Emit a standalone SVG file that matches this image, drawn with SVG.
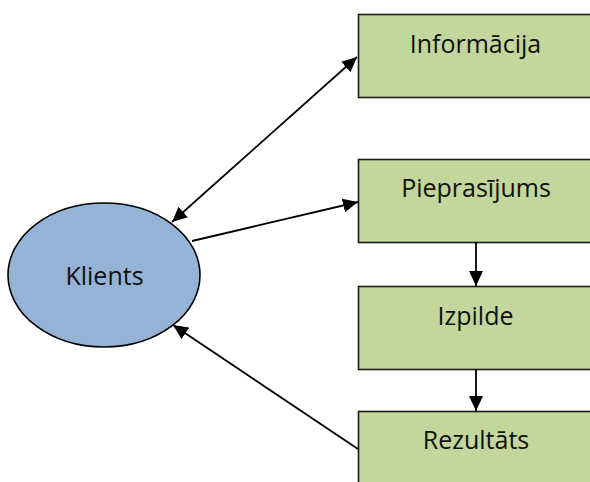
<svg xmlns="http://www.w3.org/2000/svg" width="590" height="482" viewBox="0 0 590 482">
<style>
.box{fill:#c3d69b;stroke:#1a1a1a;stroke-width:1.6}
.ell{fill:#95b3d7;stroke:#000;stroke-width:1.6}
.lbl{font-family:"Open Sans","Liberation Sans",sans-serif;font-size:25px;fill:#111;text-anchor:middle}
.conn{stroke:#000;stroke-width:1.8;fill:none}
</style>
<defs>
<marker id="ah" markerUnits="userSpaceOnUse" markerWidth="16" markerHeight="14" refX="15" refY="7" orient="auto-start-reverse">
<path d="M0,0 L15,7 L0,14 Z" fill="#000"/>
</marker>
</defs>
<rect width="590" height="482" fill="#fff"/>
<g id="informacija"><rect class="box" x="358.5" y="14.5" width="236" height="83"/><text class="lbl" x="475.5" y="53">Informācija</text></g>
<g id="pieprasijums"><rect class="box" x="358.5" y="159.5" width="236" height="83"/><text class="lbl" x="476" y="197">Pieprasījums</text></g>
<g id="izpilde"><rect class="box" x="358.5" y="286.5" width="236" height="83"/><text class="lbl" x="475.5" y="325">Izpilde</text></g>
<g id="rezultats"><rect class="box" x="358.5" y="411.5" width="236" height="83"/><text class="lbl" x="476" y="449">Rezultāts</text></g>
<g id="klients"><ellipse class="ell" cx="104" cy="275" rx="96" ry="72"/><text class="lbl" x="104.5" y="285">Klients</text></g>
<g id="connectors">
<line class="conn" x1="172" y1="222" x2="357" y2="57" marker-start="url(#ah)" marker-end="url(#ah)"/>
<line class="conn" x1="192" y1="241" x2="358" y2="202" marker-end="url(#ah)"/>
<line class="conn" x1="476" y1="242" x2="476" y2="286" marker-end="url(#ah)"/>
<line class="conn" x1="476" y1="369" x2="476" y2="411" marker-end="url(#ah)"/>
<line class="conn" x1="358" y1="449" x2="173" y2="325" marker-end="url(#ah)"/>
</g>
</svg>
